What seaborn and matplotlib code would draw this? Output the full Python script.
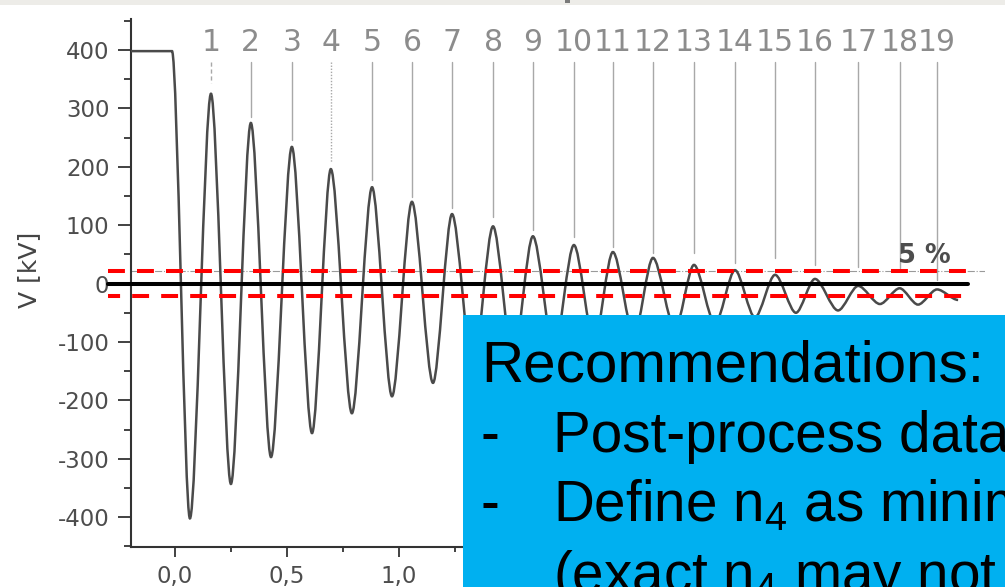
import matplotlib
matplotlib.use("Agg")
import matplotlib.pyplot as plt
from matplotlib.path import Path
from matplotlib.patches import PathPatch, Rectangle
from matplotlib.ticker import MultipleLocator, FuncFormatter
import seaborn as sns

# Turning points of the damped oscillation: time [µs] and voltage [kV]
t_turn = [-0.196, -0.013, 0.067, 0.161, 0.250, 0.339, 0.429, 0.522, 0.612, 0.696,
          0.790, 0.880, 0.969, 1.058, 1.152, 1.237, 1.330, 1.420, 1.509, 1.598,
          1.692, 1.781, 1.871, 1.955, 2.049, 2.134, 2.232, 2.317, 2.411, 2.500,
          2.589, 2.679, 2.772, 2.857, 2.960, 3.050, 3.147, 3.235, 3.317, 3.402,
          3.496]
v_turn = [398, 398, -402, 325, -343, 275, -297, 234, -256, 196,
          -222, 165, -193, 140, -170, 119, -148, 98, -129, 81,
          -113, 66, -99, 54, -88, 44, -78, 32, -69, 23,
          -58, 15, -50, 8, -46, -4, -35, -8, -36, -10,
          -28]

# Numbered peaks and where their marker lines stop above each peak
peak_labels = ["1", "2", "3", "4", "5", "6", "7", "8", "9", "10",
               "11", "12", "13", "14", "15", "16", "17", "18", "19"]
marker_ends = [343, 285, 246, 208, 177, 148, 129, 114, 92, 80,
               63, 52, 52, 35, 44, 32, 28, 27, 6]

# 5 % band around zero
band_levels = [22, -22]
band_label = "5 %"

box_title = "Recommendations:"
box_items = ["Post-process data", r"Define n$_{\mathrm{4}}$ as minimum"]
box_tail = r"(exact n$_{\mathrm{4}}$ may not"

sns.set_theme(style="ticks")
plt.rcParams["font.family"] = ["DejaVu Sans"]
plt.rcParams["axes.unicode_minus"] = False
plt.rcParams["mathtext.fontset"] = "custom"
plt.rcParams["mathtext.rm"] = "Liberation Sans"
plt.rcParams["mathtext.it"] = "Liberation Sans"

W, H = 1005, 587
fig = plt.figure(figsize=(W / 100, H / 100), dpi=100)
fig.patch.set_facecolor("white")

ax = fig.add_axes([131 / W, 1 - 547 / H, (985 - 131) / W, (547 - 19) / H])
ax.set_facecolor("white")
ax.set_xlim(-0.196, 3.616)
ax.set_ylim(-451, 453)

# smooth waveform through the turning points (horizontal tangents at each one)
k = 0.30
verts = [(t_turn[0], v_turn[0])]
codes = [Path.MOVETO]
for i in range(1, len(t_turn)):
    t0, v0 = t_turn[i - 1], v_turn[i - 1]
    t1, v1 = t_turn[i], v_turn[i]
    dt = t1 - t0
    verts += [(t0 + k * dt, v0), (t1 - k * dt, v1), (t1, v1)]
    codes += [Path.CURVE4] * 3
ax.add_patch(PathPatch(Path(verts, codes), fill=False, edgecolor="#4a4a4a",
                       lw=1.8, zorder=3))

# peak marker lines and numbers
peak_t = t_turn[3::2]
for n, (tp, lab, yend) in enumerate(zip(peak_t, peak_labels, marker_ends)):
    ls = "-"
    if n == 0:
        ls = (0, (3, 2))
    elif n == 3:
        ls = (0, (1, 1.2))
    ax.plot([tp, tp], [379, yend], color="#a8a8a8", lw=1.0, ls=ls, zorder=2)
    ax.text(tp, 412, lab, ha="center", va="center", fontsize=21.5,
            color="#8c8c8c", zorder=2)

# original thin 5 % line of the chart
ax.axhline(band_levels[0], color="#9a9a9a", lw=0.8, ls="-.", zorder=2)
ax.text(3.345, 47, band_label, ha="center", va="center", fontsize=18.5,
        color="#4d4d4d", fontweight="bold", zorder=2)

# overlaid zero line and ±5 % band, drawn past the axis on the left
x_span = [-0.30, 3.54]
sns.lineplot(x=x_span, y=[0, 0], ax=ax, color="black", lw=2.9)
zero_line = ax.lines[-1]
zero_line.set_clip_on(False)
zero_line.set_zorder(5)
for lvl, phase in zip(band_levels, [0, 1.2]):
    sns.lineplot(x=x_span, y=[lvl, lvl], ax=ax, color="#ff0000", lw=2.9)
    ln = ax.lines[-1]
    ln.set_linestyle((phase, (4.2, 3.0)))
    ln.set_clip_on(False)
    ln.set_zorder(5)

# axes styling
for side in ["top", "right"]:
    ax.spines[side].set_visible(False)
for side in ["left", "bottom"]:
    ax.spines[side].set_color("#333333")
    ax.spines[side].set_linewidth(1.5)


def time_label(x, _):
    # labels further right sit beneath the call-out box
    if x > 1.2:
        return ""
    return f"{x:.1f}".replace(".", ",")


ax.xaxis.set_major_locator(MultipleLocator(0.5))
ax.xaxis.set_minor_locator(MultipleLocator(0.25))
ax.yaxis.set_major_locator(MultipleLocator(100))
ax.yaxis.set_minor_locator(MultipleLocator(50))
ax.xaxis.set_major_formatter(FuncFormatter(time_label))
ax.yaxis.set_major_formatter(FuncFormatter(lambda y, _: f"{y:.0f}"))
ax.tick_params(axis="both", which="both", direction="out", color="#333333",
               width=1.3, labelcolor="#4d4d4d", labelsize=16.5)
ax.tick_params(axis="y", which="major", length=9.5, pad=6)
ax.tick_params(axis="y", which="minor", length=5)
ax.tick_params(axis="x", which="major", length=7, pad=6)
ax.tick_params(axis="x", which="minor", length=3.5)

fig.text(29 / W, 1 - 270 / H, "V [kV]", rotation=90, ha="center", va="center",
         fontsize=18, color="#444444")

# slide header strip
fig.patches.append(Rectangle((0, 1 - 5 / H), 1, 5 / H, transform=fig.transFigure,
                             facecolor="#edece8", edgecolor="none", zorder=6))
fig.patches.append(Rectangle((565 / W, 1 - 3 / H), 5 / W, 3 / H, transform=fig.transFigure,
                             facecolor="#7a7a7a", edgecolor="none", zorder=7))

# recommendation call-out box
fig.patches.append(Rectangle((463 / W, 0), 1 - 463 / W, 1 - 315 / H,
                             transform=fig.transFigure, facecolor="#00b0f0",
                             edgecolor="none", zorder=8))
box_font = ["Liberation Sans", "DejaVu Sans"]
fig.text(481 / W, 1 - 382 / H, box_title, ha="left", va="baseline", fontsize=42,
         color="black", family=box_font, zorder=9)
for j, item in enumerate(box_items):
    yb = 1 - (452 + 69.5 * j) / H
    fig.text(480 / W, yb, "-", ha="left", va="baseline", fontsize=40.8,
             color="black", family=box_font, zorder=9)
    fig.text(553 / W, yb, item, ha="left", va="baseline", fontsize=40.8,
             color="black", family=box_font, zorder=9)
fig.text(553 / W, 1 - 592 / H, box_tail, ha="left", va="baseline", fontsize=40.8,
         color="black", family=box_font, zorder=9)

fig.savefig("out.png", dpi=100)
